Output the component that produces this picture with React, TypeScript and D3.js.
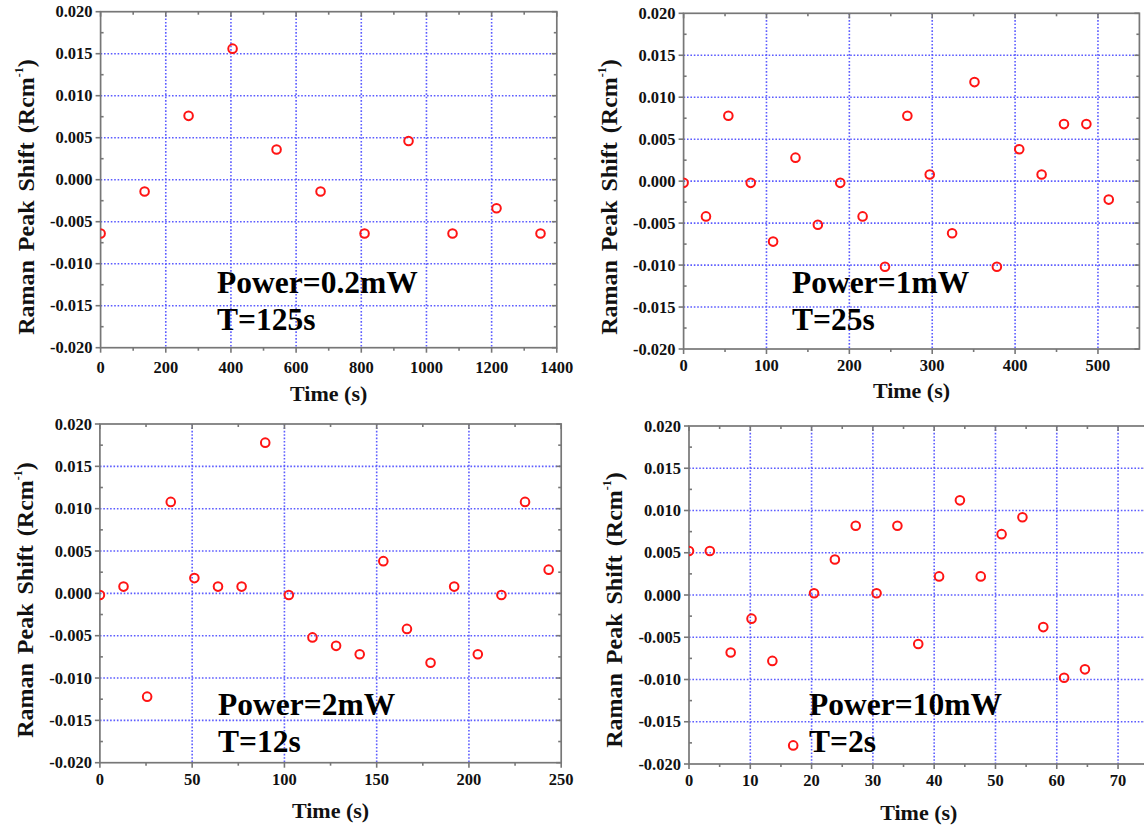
import React from "react";
import * as d3 from "d3";

// ---------- data ----------
const p1Time = [0, 135, 270, 405, 540, 675, 810, 945, 1080, 1215, 1350];
const p1Shift = [-0.0064, -0.0014, 0.0076, 0.0156, 0.0036, -0.0014, -0.0064, 0.0046, -0.0064, -0.0034, -0.0064];

const p2Time = [0, 27, 54, 81, 108, 135, 162, 189, 216, 243, 270, 297, 324, 351, 378, 405, 432, 459, 486, 513];
const p2Shift = [-0.0002, -0.0042, 0.0078, -0.0002, -0.0072, 0.0028, -0.0052, -0.0002, -0.0042, -0.0102, 0.0078, 0.0008, -0.0062, 0.0118, -0.0102, 0.0038, 0.0008, 0.0068, 0.0068, -0.0022];

const p3Time = [0, 12.8, 25.6, 38.4, 51.2, 64, 76.8, 89.6, 102.4, 115.2, 128, 140.8, 153.6, 166.4, 179.2, 192, 204.8, 217.6, 230.4, 243.2];
const p3Shift = [-0.0002, 0.0008, -0.0122, 0.0108, 0.0018, 0.0008, 0.0008, 0.0178, -0.0002, -0.0052, -0.0062, -0.0072, 0.0038, -0.0042, -0.0082, 0.0008, -0.0072, -0.0002, 0.0108, 0.0028];

const p4Time = [0, 3.4, 6.8, 10.2, 13.6, 17, 20.4, 23.8, 27.2, 30.6, 34, 37.4, 40.8, 44.2, 47.6, 51, 54.4, 57.8, 61.2, 64.6];
const p4Shift = [0.0052, 0.0052, -0.0068, -0.0028, -0.0078, -0.0178, 0.0002, 0.0042, 0.0082, 0.0002, 0.0082, -0.0058, 0.0022, 0.0112, 0.0022, 0.0072, 0.0092, -0.0038, -0.0098, -0.0088];

const yTicks = [-0.02, -0.015, -0.01, -0.005, 0, 0.005, 0.01, 0.015, 0.02];
const yTickLabels = ["-0.020", "-0.015", "-0.010", "-0.005", "0.000", "0.005", "0.010", "0.015", "0.020"];
const yDomain = [-0.02, 0.02];

const p1XTicks = [0, 200, 400, 600, 800, 1000, 1200, 1400];
const p2XTicks = [0, 100, 200, 300, 400, 500];
const p3XTicks = [0, 50, 100, 150, 200, 250];
const p4XTicks = [0, 10, 20, 30, 40, 50, 60, 70];

const p1Labels = ["Power=0.2mW", "T=125s"];
const p2Labels = ["Power=1mW", "T=25s"];
const p3Labels = ["Power=2mW", "T=12s"];
const p4Labels = ["Power=10mW", "T=2s"];

const xTitle = "Time (s)";
const yTitle = "Raman Peak Shift (Rcm";

// ---------- style ----------
const FONT = "'Liberation Serif','Times New Roman',Times,serif";
const AXIS = "#777777";
const GRID = "#5c5cff";
const MARK = "#ff1414";

type Cfg = {
  id: string;
  x0: number; x1: number; y0: number; y1: number;
  xDomain: number[];
  xTicks: number[];
  time: number[];
  shift: number[];
  labels: string[];
  labelX: number; labelY: number;
  xLabelDy: number;
  xTitleY: number;
  yTitleCY: number;
};

function Panel({ c }: { c: Cfg }) {
  const x = d3.scaleLinear().domain(c.xDomain).range([c.x0, c.x1]);
  const y = d3.scaleLinear().domain(yDomain).range([c.y1, c.y0]);
  const step = c.xTicks[1] - c.xTicks[0];
  const xMinor = c.xTicks.map((t) => t + step / 2).filter((t) => t < c.xDomain[1]);
  const yMinor = yTicks.slice(0, -1).map((t) => t + 0.0025);
  const clip = `clip-${c.id}`;
  const fmtX = d3.format("d");
  return (
    <g>
      <defs>
        <clipPath id={clip}>
          <rect x={c.x0} y={c.y0} width={c.x1 - c.x0} height={c.y1 - c.y0} />
        </clipPath>
      </defs>
      {/* grid */}
      {c.xTicks.filter((t) => t > c.xDomain[0] && t < c.xDomain[1]).map((t) => (
        <line key={"gx" + t} x1={x(t)} x2={x(t)} y1={c.y0} y2={c.y1} stroke={GRID} strokeWidth={1.6} strokeDasharray="1.6,1.8" />
      ))}
      {yTicks.slice(1, -1).map((t) => (
        <line key={"gy" + t} x1={c.x0} x2={c.x1} y1={y(t)} y2={y(t)} stroke={GRID} strokeWidth={1.6} strokeDasharray="1.6,1.8" />
      ))}
      {/* frame */}
      <rect x={c.x0} y={c.y0} width={c.x1 - c.x0} height={c.y1 - c.y0} fill="none" stroke={AXIS} strokeWidth={1.7} />
      {/* x ticks */}
      {c.xTicks.map((t) => (
        <g key={"tx" + t}>
          <line x1={x(t)} x2={x(t)} y1={c.y1} y2={c.y1 + 5} stroke={AXIS} strokeWidth={1.6} />
          <line x1={x(t)} x2={x(t)} y1={c.y0} y2={c.y0 + 5} stroke={AXIS} strokeWidth={1.6} />
          <text x={x(t)} y={c.y1 + c.xLabelDy} textAnchor="middle" fontFamily={FONT} fontWeight="bold" fontSize={16.5} fill="#111">
            {fmtX(t)}
          </text>
        </g>
      ))}
      {xMinor.map((t) => (
        <g key={"mx" + t}>
          <line x1={x(t)} x2={x(t)} y1={c.y1} y2={c.y1 + 3} stroke={AXIS} strokeWidth={1.6} />
          <line x1={x(t)} x2={x(t)} y1={c.y0} y2={c.y0 + 3} stroke={AXIS} strokeWidth={1.6} />
        </g>
      ))}
      {/* y ticks */}
      {yTicks.map((t, i) => (
        <g key={"ty" + t}>
          <line x1={c.x0 - 5} x2={c.x0} y1={y(t)} y2={y(t)} stroke={AXIS} strokeWidth={1.6} />
          <line x1={c.x1 - 5} x2={c.x1} y1={y(t)} y2={y(t)} stroke={AXIS} strokeWidth={1.6} />
          <text x={c.x0 - 8} y={y(t) + 5.5} textAnchor="end" fontFamily={FONT} fontWeight="bold" fontSize={16.5} fill="#111">
            {yTickLabels[i]}
          </text>
        </g>
      ))}
      {yMinor.map((t) => (
        <g key={"my" + t}>
          <line x1={c.x0} x2={c.x0 + 3} y1={y(t)} y2={y(t)} stroke={AXIS} strokeWidth={1.6} />
          <line x1={c.x1 - 3} x2={c.x1} y1={y(t)} y2={y(t)} stroke={AXIS} strokeWidth={1.6} />
        </g>
      ))}
      {/* points */}
      <g clipPath={`url(#${clip})`}>
        {c.time.map((t, i) => (
          <circle key={"p" + i} cx={x(t)} cy={y(c.shift[i])} r={4.3} fill="none" stroke={MARK} strokeWidth={2} />
        ))}
      </g>
      {/* annotations */}
      <text x={c.labelX} y={c.labelY} fontFamily={FONT} fontWeight="bold" fontSize={31.5} fill="#000">{c.labels[0]}</text>
      <text x={c.labelX} y={c.labelY + 37} fontFamily={FONT} fontWeight="bold" fontSize={31.5} fill="#000">{c.labels[1]}</text>
      {/* axis titles */}
      <text x={(c.x0 + c.x1) / 2} y={c.xTitleY} textAnchor="middle" fontFamily={FONT} fontWeight="bold" fontSize={22} fill="#111">
        {xTitle}
      </text>
      <text
        transform={`translate(${c.x0 - 67},${c.yTitleCY}) rotate(-90)`}
        textAnchor="middle"
        fontFamily={FONT}
        fontWeight="bold"
        fontSize={24}
        fill="#111"
        wordSpacing={3}
      >
        {yTitle}
        <tspan fontSize={12} dy={-11}>-1</tspan>
        <tspan dy={11}>)</tspan>
      </text>
    </g>
  );
}

const panels: Cfg[] = [
  { id: "a", x0: 100.6, x1: 556.8, y0: 11.7, y1: 347.7, xDomain: [0, 1400], xTicks: p1XTicks, time: p1Time, shift: p1Shift, labels: p1Labels, labelX: 217, labelY: 293, xLabelDy: 25, xTitleY: 401, yTitleCY: 197 },
  { id: "b", x0: 683.6, x1: 1139.4, y0: 13.3, y1: 349, xDomain: [0, 550], xTicks: p2XTicks, time: p2Time, shift: p2Shift, labels: p2Labels, labelX: 792, labelY: 293, xLabelDy: 22, xTitleY: 398, yTitleCY: 197 },
  { id: "c", x0: 99.9, x1: 561.2, y0: 424, y1: 762.7, xDomain: [0, 250], xTicks: p3XTicks, time: p3Time, shift: p3Shift, labels: p3Labels, labelX: 218, labelY: 715, xLabelDy: 22, xTitleY: 818, yTitleCY: 600 },
  { id: "d", x0: 689, x1: 1148.7, y0: 426, y1: 764, xDomain: [0, 75], xTicks: p4XTicks, time: p4Time, shift: p4Shift, labels: p4Labels, labelX: 809, labelY: 715, xLabelDy: 22, xTitleY: 820, yTitleCY: 610 },
];

export default function App() {
  return (
    <svg
      width={1144}
      height={827}
      style={{ position: "absolute", left: 0, top: 0, background: "#fff" }}
    >
      <rect x={0} y={0} width={1144} height={827} fill="#fff" />
      {panels.map((c) => (
        <Panel key={c.id} c={c} />
      ))}
    </svg>
  );
}
